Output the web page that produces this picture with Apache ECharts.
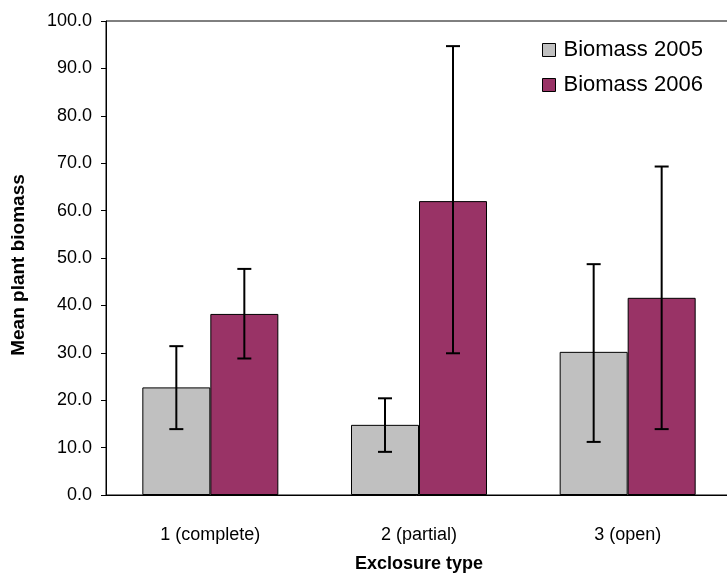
<!DOCTYPE html>
<html>
<head>
<meta charset="utf-8">
<script src="https://cdn.jsdelivr.net/npm/echarts@6/dist/echarts.min.js"></script>
<style>
  html, body { margin: 0; padding: 0; background: #fff; }
  #chart { width: 727px; height: 573px; }
</style>
</head>
<body>
<div id="chart"></div>
<script>
const categories = ['1 (complete)', '2 (partial)', '3 (open)']
const seriesNames = ['Biomass 2005', 'Biomass 2006']
const biomass2005 = [22.7, 14.8, 30.2]
const biomass2006 = [38.2, 62.0, 41.6]
// error bar ends
const low2005 = [13.9, 9.1, 11.2]
const high2005 = [31.4, 20.4, 48.7]
const low2006 = [28.8, 29.9, 13.9]
const high2006 = [47.7, 94.7, 69.3]
const yTicks = [0, 10, 20, 30, 40, 50, 60, 70, 80, 90, 100]

const BAR_W = 68
const font = 'Liberation Sans, Arial, sans-serif'

const chart = echarts.init(document.getElementById('chart'))

// draws the error bars, shifted onto the left or right bar of each group
function errorBars(lows, highs, side) {
  return {
    type: 'custom',
    data: categories.map((c, i) => [i, lows[i], highs[i]]),
    silent: true,
    z: 10,
    renderItem(params, api) {
      const i = api.value(0)
      const lo = api.coord([i, api.value(1)])
      const hi = api.coord([i, api.value(2)])
      const x = lo[0] + side * BAR_W / 2
      const cap = 7
      const style = { stroke: '#000', lineWidth: 2 }
      return {
        type: 'group',
        children: [
          { type: 'line', shape: { x1: x, y1: hi[1], x2: x, y2: lo[1] }, style },
          { type: 'line', shape: { x1: x - cap, y1: hi[1], x2: x + cap, y2: hi[1] }, style },
          { type: 'line', shape: { x1: x - cap, y1: lo[1], x2: x + cap, y2: lo[1] }, style }
        ]
      }
    }
  }
}

const option = {
  animation: false,
  backgroundColor: '#fff',
  textStyle: { fontFamily: font },
  grid: {
    left: 106,
    right: -5,
    top: 21,
    bottom: 78,
    outerBoundsMode: 'none',
    containLabel: false,
    show: true,
    borderColor: '#000',
    borderWidth: 1
  },
  legend: {
    data: seriesNames,
    orient: 'vertical',
    left: 537,
    top: 34,
    itemWidth: 13,
    itemHeight: 13,
    itemGap: 13,
    icon: 'rect',
    textStyle: { fontSize: 22, color: '#000', fontFamily: font, padding: [0, 0, 0, 3] },
    itemStyle: { borderColor: '#000', borderWidth: 1 }
  },
  xAxis: {
    type: 'category',
    data: categories,
    name: 'Exclosure type',
    nameLocation: 'middle',
    nameGap: 60,
    nameTextStyle: { fontSize: 18, fontWeight: 'bold', color: '#000' },
    axisLine: { lineStyle: { color: '#000', width: 1 } },
    axisTick: { length: 5, lineStyle: { color: '#777' } },
    axisLabel: { fontSize: 18, color: '#000', margin: 31 }
  },
  yAxis: {
    type: 'value',
    min: yTicks[0],
    max: yTicks[yTicks.length - 1],
    interval: 10,
    name: 'Mean plant biomass',
    nameLocation: 'middle',
    nameGap: 78,
    nameTextStyle: { fontSize: 19, fontWeight: 'bold', color: '#000', padding: [0, 14, 0, 0] },
    axisLine: { show: true, lineStyle: { color: '#000', width: 1 } },
    axisTick: { show: true, length: 5, lineStyle: { color: '#000' } },
    axisLabel: { fontSize: 18, color: '#000', margin: 14, formatter: v => v.toFixed(1) },
    splitLine: { show: false }
  },
  series: [
    {
      name: seriesNames[0],
      type: 'bar',
      data: biomass2005,
      barWidth: BAR_W,
      barGap: '0%',
      itemStyle: { color: '#c0c0c0', borderColor: '#000', borderWidth: 1 }
    },
    {
      name: seriesNames[1],
      type: 'bar',
      data: biomass2006,
      barWidth: BAR_W,
      barGap: '0%',
      itemStyle: { color: '#993366', borderColor: '#000', borderWidth: 1 }
    },
    errorBars(low2005, high2005, -1),
    errorBars(low2006, high2006, 1)
  ]
}

chart.setOption(option)
</script>
</body>
</html>
